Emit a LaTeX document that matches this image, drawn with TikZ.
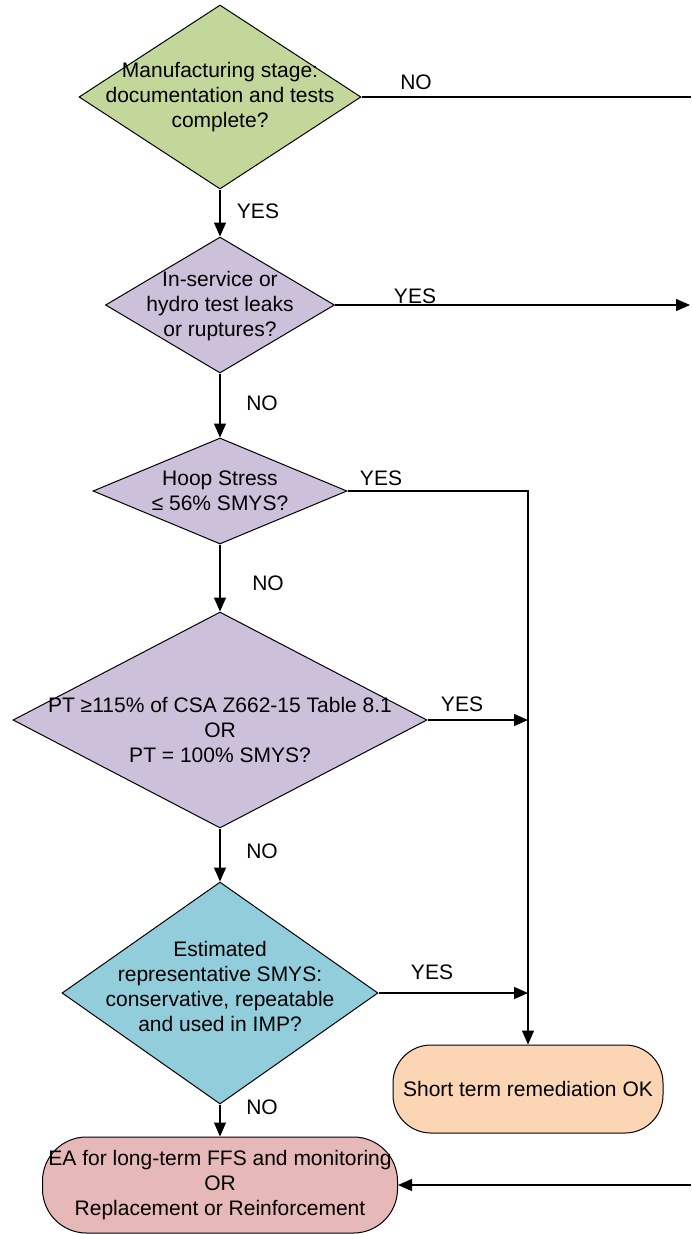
\documentclass[tikz,border=0pt]{standalone}
\usepackage{fontspec}
\setmainfont{Liberation Sans}
\usetikzlibrary{shapes.geometric,arrows.meta}
\definecolor{dgreen}{RGB}{196,215,155}
\definecolor{dlav}{RGB}{204,192,218}
\definecolor{dblue}{RGB}{146,205,220}
\definecolor{bpeach}{RGB}{252,213,180}
\definecolor{bpink}{RGB}{230,184,183}
\begin{document}
\begin{tikzpicture}[x=1pt,y=-1pt,
  font=\fontsize{21}{25}\selectfont,
  dec/.style={diamond, draw=black, line width=1pt, inner sep=0pt},
  term/.style={rectangle, draw=black, line width=1pt, inner sep=0pt, align=center},
  conn/.style={draw=black, line width=1.3pt},
  arr/.style={conn, -{Triangle[length=14pt,width=12pt]}},
  lbl/.style={inner sep=0pt}
]
\useasboundingbox (0,0) rectangle (691,1234);
\fill[white] (0,0) rectangle (691,1234);

% decisions
\node[dec, fill=dgreen, minimum width=282pt, minimum height=184pt] (d1) at (220,97) {};
\node[align=center, inner sep=0pt] (t1) at (220,97) {Manufacturing stage:\\documentation and tests\\complete?};

\node[dec, fill=dlav, minimum width=229pt, minimum height=136pt] (d2) at (220,305) {};
\node[align=center, inner sep=0pt] (t2) at (220,306) {In-service or\\hydro test leaks\\or ruptures?};

\node[dec, fill=dlav, minimum width=254pt, minimum height=106pt] (d3) at (220,491) {};
\node[align=center, inner sep=0pt] (t3) at (220,491) {Hoop Stress\\≤ 56\% SMYS?};

\node[dec, fill=dlav, minimum width=414pt, minimum height=216pt] (d4) at (220,720) {};
\node[align=center, inner sep=0pt] (t4) at (220,730) {PT ≥115\% of CSA Z662-15 Table 8.1\\OR\\PT = 100\% SMYS?};

\node[dec, fill=dblue, minimum width=316pt, minimum height=222pt] (d5) at (220,993) {};
\node[align=center, inner sep=0pt] (t5) at (220,986) {Estimated\\representative SMYS:\\conservative, repeatable\\and used in IMP?};

% terminals
\node[term, fill=bpeach, rounded corners=38pt, minimum width=270pt, minimum height=88pt] (st) at (528,1089) {Short term remediation OK};
\node[term, fill=bpink, rounded corners=44pt, minimum width=355pt, minimum height=96pt] (ea) at (220,1185) {EA for long-term FFS and monitoring\\OR\\Replacement or Reinforcement};

% free ends
\coordinate (e1) at (691,97);
\coordinate (e2) at (690,305);
\coordinate (e3) at (691,1185);

% connectors
\draw[conn] (d1.east) -- (e1);
\draw[arr] (d1.south) -- (d2.north);
\draw[arr] (d2.east) -- (e2);
\draw[arr] (d2.south) -- (d3.north);
\draw[arr] (d3.east) -| (st.north);
\draw[arr] (d3.south) -- (d4.north);
\draw[arr] (d4.east) -- (d4.east -| st.north);
\draw[arr] (d4.south) -- (d5.north);
\draw[arr] (d5.east) -- (d5.east -| st.north);
\draw[arr] (d5.south) -- (ea.north);
\draw[arr] (e3) -- (ea.east);

% labels
\node[lbl] (l1) at (416,82) {NO};
\node[lbl] (l2) at (258,211) {YES};
\node[lbl] (l3) at (415,296) {YES};
\node[lbl] (l4) at (262,403) {NO};
\node[lbl] (l5) at (381,478) {YES};
\node[lbl] (l6) at (268,583) {NO};
\node[lbl] (l7) at (462,704) {YES};
\node[lbl] (l8) at (262,851) {NO};
\node[lbl] (l9) at (432,972) {YES};
\node[lbl] (l10) at (262,1107) {NO};
\end{tikzpicture}
\end{document}
